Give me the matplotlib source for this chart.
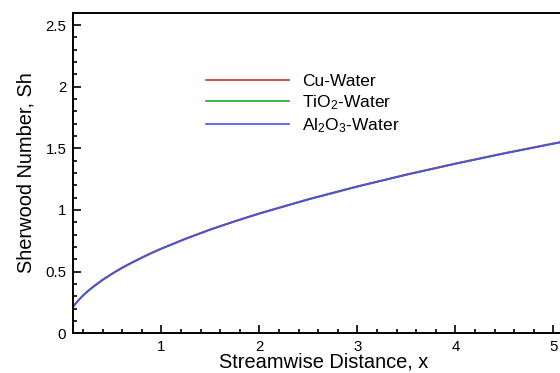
import matplotlib
matplotlib.use("Agg")
import matplotlib.pyplot as plt
from matplotlib.ticker import MultipleLocator

plt.rcParams['font.family'] = ['Liberation Sans', 'DejaVu Sans']
plt.rcParams['mathtext.fontset'] = 'custom'
plt.rcParams['mathtext.rm'] = 'Liberation Sans'
plt.rcParams['mathtext.it'] = 'Liberation Sans'

x = [0.1, 0.15, 0.2, 0.25, 0.3, 0.4, 0.5, 0.6, 0.7, 0.8, 0.9, 1.0, 1.25, 1.5,
     1.75, 2.0, 2.5, 3.0, 3.5, 4.0, 4.5, 5.0, 5.5]
sh_cu = [0.218, 0.267, 0.308, 0.345, 0.377, 0.436, 0.487, 0.534, 0.576, 0.616,
         0.654, 0.689, 0.770, 0.844, 0.911, 0.974, 1.089, 1.193, 1.289, 1.378,
         1.462, 1.541, 1.616]
sh_tio2 = [0.216, 0.265, 0.306, 0.342, 0.374, 0.433, 0.484, 0.531, 0.573, 0.613,
           0.651, 0.686, 0.767, 0.841, 0.908, 0.971, 1.086, 1.190, 1.286, 1.375,
           1.459, 1.538, 1.613]
sh_al2o3 = [0.215, 0.264, 0.305, 0.341, 0.373, 0.432, 0.483, 0.530, 0.572, 0.612,
            0.650, 0.685, 0.766, 0.840, 0.907, 0.970, 1.085, 1.189, 1.285, 1.374,
            1.458, 1.537, 1.612]
labels = ['Cu-Water', r'TiO$_2$-Water', r'Al$_2$O$_3$-Water']
colors = ['#e52b2b', '#1faa1f', '#4d4df2']

fig = plt.figure(figsize=(5.6, 3.73), dpi=100)
ax = fig.add_axes([73.2/560, (373-333.3)/373, (575-73.2)/560, (333.3-12.7)/373])

for ys, lab, c in zip([sh_cu, sh_tio2, sh_al2o3], labels, colors):
    ax.plot(x, ys, color=c, lw=1.2, label=lab)

ax.set_xlim(0.1, 5.22)
ax.set_ylim(0, 2.6)
ax.xaxis.set_minor_locator(MultipleLocator(0.2))
ax.yaxis.set_minor_locator(MultipleLocator(0.1))
ax.set_xticks([1, 2, 3, 4, 5])
ax.set_xticklabels(['1', '2', '3', '4', '5'])
ax.set_yticks([0, 0.5, 1, 1.5, 2, 2.5])
ax.set_yticklabels(['0', '0.5', '1', '1.5', '2', '2.5'])
ax.tick_params(which='both', direction='in', labelsize=10.8, width=1.2, pad=5)
ax.tick_params(which='major', length=6)
ax.tick_params(which='minor', length=3)
ax.tick_params(top=False, right=False)
ax.spines['right'].set_visible(False)
for s in ['left', 'bottom', 'top']:
    ax.spines[s].set_linewidth(1.4)

ax.set_xlabel('Streamwise Distance, x', fontsize=14.4, labelpad=-1)
ax.set_ylabel('Sherwood Number, Sh', fontsize=14.4, labelpad=7)

ax.legend(loc='upper left', bbox_to_anchor=(190/560, 1 - 58/373),
          bbox_transform=fig.transFigure, frameon=False, fontsize=12.5,
          handlelength=4.8, handletextpad=0.75, labelspacing=0.25)

fig.savefig('out.png', dpi=100)
